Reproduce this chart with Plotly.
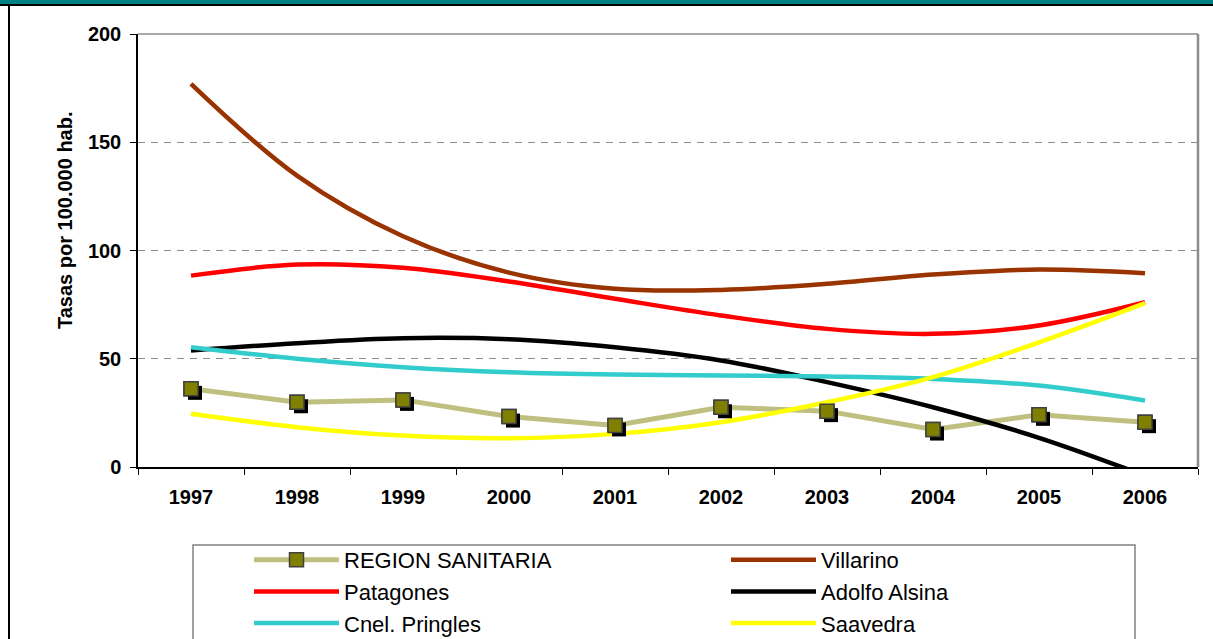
import plotly.graph_objects as go

# -----------------------------------------------------------------------------
# DATA
# -----------------------------------------------------------------------------
years = ["1997", "1998", "1999", "2000", "2001", "2002", "2003", "2004", "2005", "2006"]

region_sanitaria = [36.1, 29.9, 31.0, 23.3, 19.2, 27.6, 25.8, 17.3, 24.1, 20.7]
villarino = [177.0, 134.6, 106.6, 89.8, 82.3, 81.8, 84.6, 88.9, 91.2, 89.5]
patagones = [88.4, 93.5, 92.0, 85.7, 77.7, 70.0, 63.8, 61.5, 65.4, 76.1]
adolfo_alsina = [53.8, 57.2, 59.5, 59.0, 55.3, 49.2, 39.2, 27.6, 13.5, -4.0]
cnel_pringles = [55.3, 50.0, 46.1, 43.8, 42.7, 42.3, 41.8, 40.7, 37.6, 30.7]
saavedra = [24.6, 18.4, 14.5, 13.3, 15.3, 20.7, 29.9, 41.5, 57.6, 75.7]

y_title = "Tasas por 100.000 hab."

# -----------------------------------------------------------------------------
# LAYOUT CONSTANTS
# -----------------------------------------------------------------------------
WIDTH, HEIGHT = 1213, 639
MARGIN = dict(l=138, r=15, t=34, b=172, pad=0)
PLOT_W = WIDTH - MARGIN["l"] - MARGIN["r"]
PLOT_H = HEIGHT - MARGIN["t"] - MARGIN["b"]
Y_RANGE = [0, 200]
X_RANGE = [-0.5, len(years) - 0.5]
SHADOW = 4  # px offset of the marker shadow

FONT = "Arial, Liberation Sans, sans-serif"


def px_x(px):
    return (px - MARGIN["l"]) / PLOT_W


def px_y(py):
    return (HEIGHT - MARGIN["b"] - py) / PLOT_H


# -----------------------------------------------------------------------------
# TRACES
# -----------------------------------------------------------------------------
fig = go.Figure()

fig.add_trace(
    go.Scatter(
        x=years,
        y=region_sanitaria,
        name="REGION SANITARIA",
        mode="lines+markers",
        line=dict(color="#BFBF80", width=5),
        marker=dict(symbol="square", size=14, color="#808000",
                    line=dict(color="#404040", width=1.5)),
    )
)

curves = [
    ("Villarino", villarino, "#993300"),
    ("Patagones", patagones, "#FF0000"),
    ("Adolfo Alsina", adolfo_alsina, "#000000"),
    ("Cnel. Pringles", cnel_pringles, "#33CCCC"),
    ("Saavedra", saavedra, "#FFFF00"),
]
for name, values, color in curves:
    fig.add_trace(
        go.Scatter(
            x=years,
            y=values,
            name=name,
            mode="lines",
            line=dict(color=color, width=4.5, shape="spline", smoothing=1),
        )
    )

# marker shadow (shifted axes) and markers on top
fig.add_trace(
    go.Scatter(
        x=years, y=region_sanitaria, xaxis="x2", yaxis="y2",
        mode="markers", showlegend=False, hoverinfo="skip",
        marker=dict(symbol="square", size=14, color="#000000"),
    )
)
fig.add_trace(
    go.Scatter(
        x=years, y=region_sanitaria, xaxis="x3", yaxis="y3",
        mode="markers", showlegend=False, name="REGION SANITARIA",
        marker=dict(symbol="square", size=14, color="#808000",
                    line=dict(color="#404040", width=1.5)),
    )
)

# -----------------------------------------------------------------------------
# AXES
# -----------------------------------------------------------------------------
dx = SHADOW / PLOT_W * (X_RANGE[1] - X_RANGE[0])
dy = SHADOW / PLOT_H * (Y_RANGE[1] - Y_RANGE[0])
hidden = dict(visible=False, showgrid=False, zeroline=False, fixedrange=True)

fig.update_layout(
    xaxis=dict(
        type="category",
        categoryorder="array",
        categoryarray=years,
        range=X_RANGE,
        showgrid=False,
        zeroline=False,
        showline=True,
        linecolor="#000000",
        linewidth=1.5,
        ticks="outside",
        tickson="boundaries",
        ticklen=6,
        tickcolor="#000000",
        tickfont=dict(family=FONT, size=20, color="#000000", weight="bold"),
        ticklabelstandoff=11,
    ),
    yaxis=dict(
        range=Y_RANGE,
        dtick=50,
        showgrid=True,
        gridcolor="#8C8C8C",
        gridwidth=1,
        griddash="7px,6px",
        zeroline=False,
        showline=True,
        linecolor="#000000",
        linewidth=1.5,
        ticks="outside",
        ticklen=6,
        tickcolor="#000000",
        tickfont=dict(family=FONT, size=20, color="#000000", weight="bold"),
        ticklabelstandoff=5,
    ),
    xaxis2=dict(hidden, type="category", categoryarray=years, overlaying="x",
                range=[X_RANGE[0] - dx, X_RANGE[1] - dx]),
    yaxis2=dict(hidden, overlaying="y", range=[Y_RANGE[0] + dy, Y_RANGE[1] + dy]),
    xaxis3=dict(hidden, type="category", categoryarray=years, overlaying="x",
                range=X_RANGE),
    yaxis3=dict(hidden, overlaying="y", range=Y_RANGE),
)

# y title sits above the axis centre in the original, so place it by hand
fig.add_annotation(
    text=y_title,
    xref="paper", yref="paper",
    x=px_x(52), y=px_y(220),
    textangle=-90,
    showarrow=False,
    font=dict(family=FONT, size=20, color="#000000", weight="bold"),
)

# -----------------------------------------------------------------------------
# FRAME / DECORATION
# -----------------------------------------------------------------------------
shapes = [
    # teal band at the top of the slide
    dict(type="rect", xref="paper", yref="paper",
         x0=px_x(-5), x1=px_x(WIDTH + 5), y0=px_y(4), y1=px_y(-5),
         fillcolor="#008080", line=dict(width=0), layer="above"),
    dict(type="line", xref="paper", yref="paper",
         x0=px_x(-5), x1=px_x(WIDTH + 5), y0=px_y(5), y1=px_y(5),
         line=dict(color="#000000", width=2)),
    # left edge of the slide frame
    dict(type="line", xref="paper", yref="paper",
         x0=px_x(9), x1=px_x(9), y0=px_y(5), y1=px_y(HEIGHT + 5),
         line=dict(color="#000000", width=2)),
    # top and right border of the plot area
    dict(type="line", xref="paper", yref="paper",
         x0=0, x1=1, y0=1, y1=1, line=dict(color="#8C8C8C", width=1.5)),
    dict(type="line", xref="paper", yref="paper",
         x0=1, x1=1, y0=0, y1=1, line=dict(color="#8C8C8C", width=2.5)),
    # legend box
    dict(type="rect", xref="paper", yref="paper",
         x0=px_x(193), x1=px_x(1135), y0=px_y(HEIGHT + 10), y1=px_y(545),
         line=dict(color="#808080", width=1.5)),
]

fig.update_layout(
    width=WIDTH,
    height=HEIGHT,
    margin=MARGIN,
    paper_bgcolor="#FFFFFF",
    plot_bgcolor="#FFFFFF",
    font=dict(family=FONT, color="#000000"),
    shapes=shapes,
    showlegend=True,
    legend=dict(
        orientation="h",
        xref="container",
        yref="container",
        x=249 / WIDTH,
        y=1 - 539 / HEIGHT,
        xanchor="left",
        yanchor="top",
        entrywidth=377,
        itemwidth=85,
        font=dict(family=FONT, size=22, color="#000000"),
        bgcolor="rgba(0,0,0,0)",
        borderwidth=0,
        traceorder="normal",
    ),
)

# page has a default body margin; drop it so the figure sits at (0, 0)
fig.write_html(
    "out.html",
    config={"displayModeBar": False},
    post_script="document.body.style.margin = '0px';",
)
